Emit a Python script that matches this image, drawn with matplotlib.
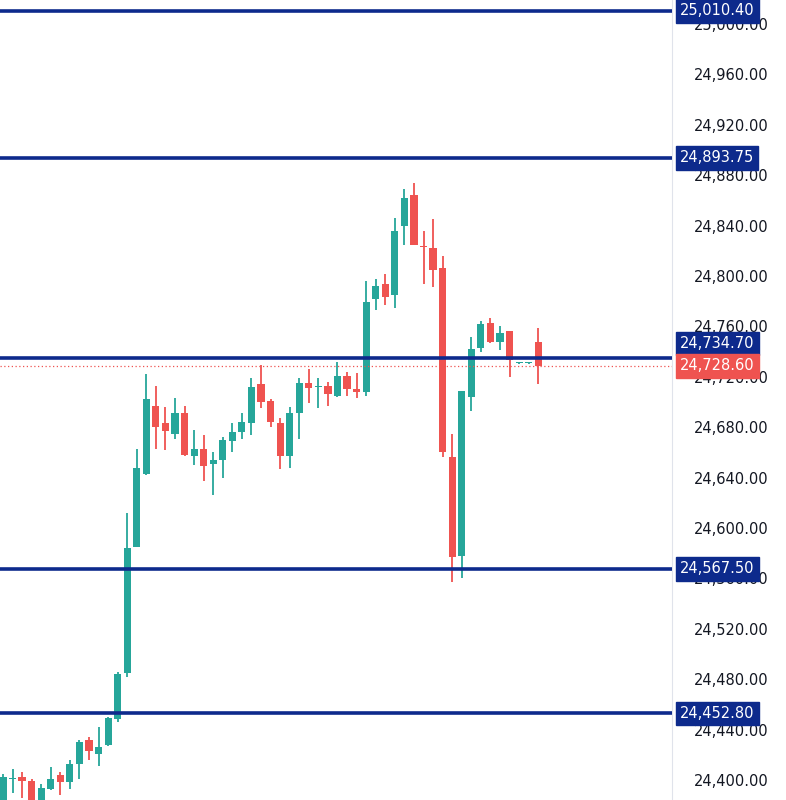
import matplotlib.pyplot as plt
import numpy as np

# OHLC per candle
opens = [24384, 24401, 24402, 24399, 24384, 24393, 24404, 24398, 24413, 24432,
         24421, 24428, 24448, 24485, 24585, 24643, 24697, 24683, 24675, 24691,
         24657, 24663, 24651, 24654, 24669, 24676, 24683, 24714, 24701, 24683,
         24657, 24691, 24715, 24712, 24713, 24705, 24721, 24710, 24708, 24782,
         24794, 24785, 24840, 24864, 24824, 24822, 24806, 24656, 24578, 24704,
         24743, 24763, 24748, 24756, 24731, 24731, 24748]
closes = [24402, 24401, 24399, 24384, 24394, 24401, 24398, 24413, 24430, 24423,
          24426, 24449, 24484, 24584, 24648, 24702, 24680, 24677, 24691, 24658,
          24663, 24649, 24654, 24670, 24676, 24684, 24712, 24700, 24684, 24657,
          24691, 24715, 24711, 24712, 24706, 24721, 24710, 24708, 24779, 24792,
          24783, 24836, 24862, 24825, 24823, 24805, 24660, 24577, 24709, 24742,
          24762, 24748, 24755, 24733, 24731, 24731.5, 24728.6]
highs = [24405, 24409, 24406, 24401, 24397, 24410, 24406, 24416, 24432, 24434,
         24442, 24450, 24486, 24612, 24663, 24722, 24713, 24696, 24703, 24697,
         24678, 24674, 24660, 24672, 24683, 24691, 24719, 24729, 24702, 24687,
         24696, 24719, 24726, 24719, 24716, 24732, 24724, 24723, 24796, 24798,
         24802, 24846, 24869, 24874, 24836, 24845, 24816, 24675, 24709, 24752,
         24764, 24767, 24760, 24756, 24732, 24732, 24759]
lows = [24380, 24390, 24386, 24380, 24380, 24392, 24388, 24393, 24401, 24416,
        24411, 24427, 24446, 24482, 24585, 24642, 24663, 24662, 24671, 24657,
        24650, 24637, 24626, 24640, 24660, 24671, 24674, 24695, 24680, 24647,
        24648, 24671, 24699, 24695, 24697, 24704, 24705, 24703, 24705, 24773,
        24777, 24775, 24825, 24825, 24794, 24791, 24656, 24557, 24560, 24693,
        24740, 24747, 24741, 24720, 24730, 24730, 24714]

levels = [25010.40, 24893.75, 24734.70, 24567.50, 24452.80]
last_price = 24728.60
y_ticks = np.arange(24400, 25001, 40)

UP, DOWN, NAVY = '#26a69a', '#ef5350', '#0d2a8c'

fig = plt.figure(figsize=(7.86, 8), dpi=100)
ax = fig.add_axes([0, 0, 0.855, 1])

x = np.arange(len(opens))
for i in x:
    o, c, h, l = opens[i], closes[i], highs[i], lows[i]
    col = UP if c >= o else DOWN
    ax.vlines(i, l, h, color=col, linewidth=1.3, zorder=2)
    body = max(abs(c - o), 0.6)
    ax.bar(i, body, bottom=min(o, c), width=0.75, color=col, zorder=3)

for lv in levels:
    ax.axhline(lv, color=NAVY, linewidth=2.6, zorder=4)
    # the price tag near the last price is pushed up so both tags stay readable
    tag_y = lv + 12 if abs(lv - last_price) < 15 else lv
    ax.text(1.012, tag_y, f'{lv:,.2f}', transform=ax.get_yaxis_transform(),
            ha='left', va='center', color='white', fontsize=10.5, zorder=6,
            clip_on=False,
            bbox=dict(boxstyle='square,pad=0.28', fc=NAVY, ec=NAVY))

ax.axhline(last_price, color=DOWN, linewidth=0.9, linestyle=(0, (1, 2)), zorder=4)
ax.text(1.012, last_price, f'{last_price:,.2f}', transform=ax.get_yaxis_transform(),
        ha='left', va='center', color='white', fontsize=10.5, zorder=6,
        clip_on=False, bbox=dict(boxstyle='square,pad=0.28', fc=DOWN, ec=DOWN))

ax.set_xlim(-0.31, 70.0)
ax.set_ylim(24384.1, 25019.1)
ax.set_yticks(y_ticks)
ax.set_yticklabels([f'{t:,.2f}' for t in y_ticks])
ax.yaxis.tick_right()
ax.tick_params(axis='y', length=0, pad=16, labelsize=10.5, labelcolor='#131722')
ax.set_xticks([])
for s in ['top', 'bottom', 'left']:
    ax.spines[s].set_visible(False)
ax.spines['right'].set_color('#e0e3eb')

fig.savefig('out.png', dpi=100)
